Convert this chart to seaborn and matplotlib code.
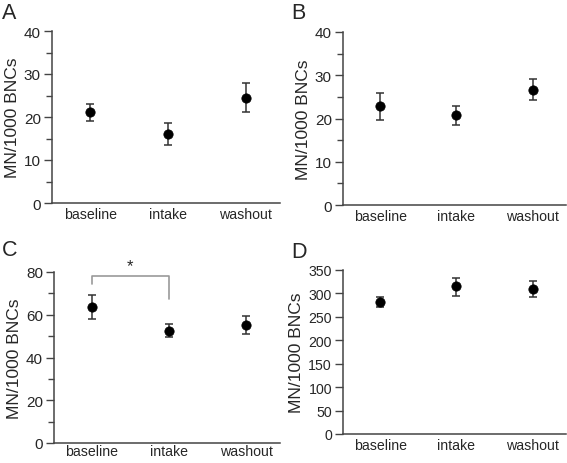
import numpy as np
import pandas as pd
import matplotlib
matplotlib.use("Agg")
import matplotlib.pyplot as plt
import seaborn as sns

# 数据：三个阶段的均值及误差上下限
groups = ["baseline", "intake", "washout"]

mean_a = [21.1, 16.1, 24.5]
low_a = [19.1, 13.4, 21.2]
high_a = [23.1, 18.7, 27.9]

mean_b = [22.8, 20.8, 26.7]
low_b = [19.6, 18.6, 24.2]
high_b = [25.9, 23.0, 29.2]

mean_c = [63.5, 52.5, 55.3]
low_c = [57.9, 49.6, 50.8]
high_c = [69.3, 55.6, 59.5]

mean_d = [281.6, 315.0, 308.7]
low_d = [270.9, 294.4, 292.3]
high_d = [291.5, 333.6, 325.8]

sns.set_style("ticks")
plt.rcParams['font.family'] = ['Liberation Sans', 'DejaVu Sans']

fig = plt.figure(figsize=(5.67, 4.64), dpi=100)
W, H = 567, 464


def px_axes(left, top, right, bottom):
    return fig.add_axes([left / W, 1 - bottom / H, (right - left) / W, (bottom - top) / H])


def panel(ax, means, lows, highs, ymax, major, minor, letter, lx, ly,
          ytick_size=11, xpad=3):
    df = pd.DataFrame({"group": groups, "mean": means})
    sns.scatterplot(data=df, x="group", y="mean", ax=ax, color="black",
                    s=45, edgecolor="black", zorder=3, legend=False)
    x = np.arange(len(groups))
    yerr = [np.array(means) - np.array(lows), np.array(highs) - np.array(means)]
    ax.errorbar(x, means, yerr=yerr, fmt="none", ecolor="#333333",
                elinewidth=1.1, capsize=3, capthick=1.1, zorder=2)
    ax.set_xlim(-0.49, 2.44)
    ax.set_ylim(0, ymax)
    ax.set_yticks(np.arange(0, ymax + 1, major))
    ax.set_yticks(np.arange(minor, ymax, major), minor=True)
    ax.tick_params(axis="y", which="major", length=6, width=1, color="#444444",
                   labelsize=ytick_size, pad=2)
    ax.tick_params(axis="y", which="minor", length=4, width=1, color="#444444")
    ax.tick_params(axis="x", length=0, labelsize=10.2, pad=xpad)
    ax.set_xlabel("")
    ax.set_ylabel("MN/1000 BNCs", fontsize=12.5, labelpad=3)
    for side in ["top", "right"]:
        ax.spines[side].set_visible(False)
    for side in ["left", "bottom"]:
        ax.spines[side].set_color("#444444")
        ax.spines[side].set_linewidth(1.1)
    # 面板字母
    fig.text(lx / W, 1 - ly / H, letter, fontsize=15.5, ha="left", va="top")


ax_a = px_axes(52, 32, 280, 204)
panel(ax_a, mean_a, low_a, high_a, 40, 10, 5, "A", 2, 3)

ax_b = px_axes(343, 33, 566, 206)
panel(ax_b, mean_b, low_b, high_b, 40, 10, 5, "B", 291, 3)

ax_c = px_axes(54, 273, 280, 444)
panel(ax_c, mean_c, low_c, high_c, 80, 20, 10, "C", 2, 240, xpad=1)
# 显著性标记
ax_c.plot([0, 0, 1, 1], [74.4, 78.3, 78.3, 67.4], color="#999999", lw=1.2,
          clip_on=False)
ax_c.text(0.5, 79.5, "*", ha="center", va="bottom", fontsize=12)

ax_d = px_axes(343, 271, 566, 435)
panel(ax_d, mean_d, low_d, high_d, 350, 50, 25, "D", 291, 242, ytick_size=10.2)
ax_d.set_yticks([], minor=True)

fig.savefig("out.png", dpi=100)
